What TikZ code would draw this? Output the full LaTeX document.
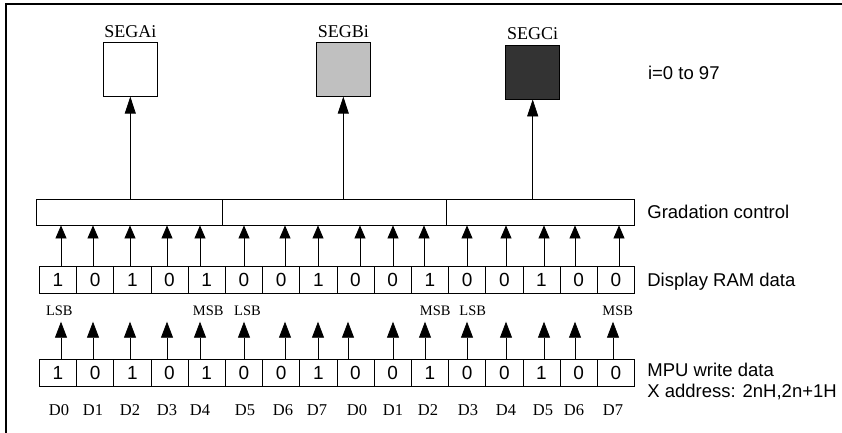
\documentclass[tikz,border=0pt]{standalone}
\usepackage{fontspec}
\setmainfont{Liberation Serif}
\setsansfont{Liberation Sans}
\usetikzlibrary{arrows.meta,positioning,calc}
\definecolor{segmid}{RGB}{192,192,192}
\definecolor{segdark}{RGB}{51,51,51}

\begin{document}
\begin{tikzpicture}[x=1pt,y=-1pt,line width=.75pt,
  cell/.style={draw,minimum width=37.2pt,minimum height=27.3pt,inner sep=0pt,font=\sffamily\fontsize{19}{20}\selectfont},
  segbox/.style={draw,minimum width=54pt,minimum height=54pt,inner sep=0pt},
  gbox/.style={draw,minimum height=25.7pt,inner sep=0pt,anchor=west},
  lbl/.style={inner sep=0pt,anchor=west,font=\sffamily\fontsize{18.5}{21}\selectfont,align=left},
  seglbl/.style={inner sep=0pt,font=\fontsize{18}{20}\selectfont},
  bitlbl/.style={inner sep=0pt,font=\fontsize{14.5}{16}\selectfont},
  dlbl/.style={inner sep=0pt,font=\fontsize{16.5}{18}\selectfont},
  toparrow/.style={-{Triangle[length=13pt,width=11pt]}},
  midarrow/.style={-{Triangle[length=16pt,width=12pt]}},
  segarrow/.style={-{Triangle[length=17pt,width=11pt]}}]

\useasboundingbox (0,0) rectangle (842,432);
\begin{scope}
\clip (0,0) rectangle (842,432);
\draw[line width=2pt] (6,4) rectangle (900,500);
\end{scope}

% segment outputs
\node[segbox] (sa) at (130.3,69.2) {};
\node[segbox,fill=segmid] (sb) at (343.3,69.2) {};
\node[segbox,fill=segdark] (sc) at (532.7,72) {};
\node[seglbl] (sal) at (130.3,31.7) {SEGAi};
\node[seglbl] (sbl) at (343.3,31.7) {SEGBi};
\node[seglbl] (scl) at (532.7,33.3) {SEGCi};
\node[lbl] (range) at (647.7,73.3) {i=0 to 97};

% gradation control
\node[gbox,minimum width=185.7pt] (g1) at (36,212.2) {};
\node[gbox,minimum width=224.3pt] (g2) at (221.7,212.2) {};
\node[gbox,minimum width=188.3pt] (g3) at (446,212.2) {};
\node[lbl] (glbl) at (647,211.7) {Gradation control};

\draw[segarrow] (sa.south |- g1.north) -- (sa.south);
\draw[segarrow] (sb.south |- g2.north) -- (sb.south);
\draw[segarrow] (sc.south |- g3.north) -- (sc.south);

% display RAM data and MPU write data
\foreach \b [count=\i from 0] in {1,0,1,0,1,0,0,1,0,0,1,0,0,1,0,0} {
  \node[cell] (r\i) at ({57.9+37.2*\i},279.7) {\b};
  \node[cell] (w\i) at ({57.9+37.2*\i},373) {\b};
}
\node[lbl] (rlbl) at (647,281.7) {Display RAM data};
\node[lbl] (wlbl) at (647,381) {MPU write data\\X address: 2nH,2n+1H};

\foreach \i/\xt/\xm/\xd/\d in {0/61/61/59/D0,1/93/93/93/D1,2/130/130/130/D2,3/167/167/167/D3,
  4/200/200/200/D4,5/244/244/245/D5,6/285/285/283/D6,7/318/318/317/D7,
  8/360/348/357/D0,9/393/393/393/D1,10/424/425/428/D2,11/467/467/468/D3,
  12/506/506/506/D4,13/544/544/543/D5,14/575/575/574/D6,15/619/613/613/D7} {
  \coordinate (t\i) at (\xt,250);
  \coordinate (m\i) at (\xm,321.7);
  \draw[toparrow] (t\i |- r0.north) -- (t\i |- g1.south);
  \draw[midarrow] (m\i |- w0.north) -- (m\i);
  \node[dlbl] (d\i) at (\xd,410) {\d};
}

% bit order
\node[bitlbl] (lsb1) at (59.3,310.7) {LSB};
\node[bitlbl] (msb1) at (208.3,310.7) {MSB};
\node[bitlbl] (lsb2) at (247.5,310.7) {LSB};
\node[bitlbl] (msb2) at (435.3,310.7) {MSB};
\node[bitlbl] (lsb3) at (472.7,310.7) {LSB};
\node[bitlbl] (msb3) at (617.7,310.7) {MSB};
\end{tikzpicture}
\end{document}
